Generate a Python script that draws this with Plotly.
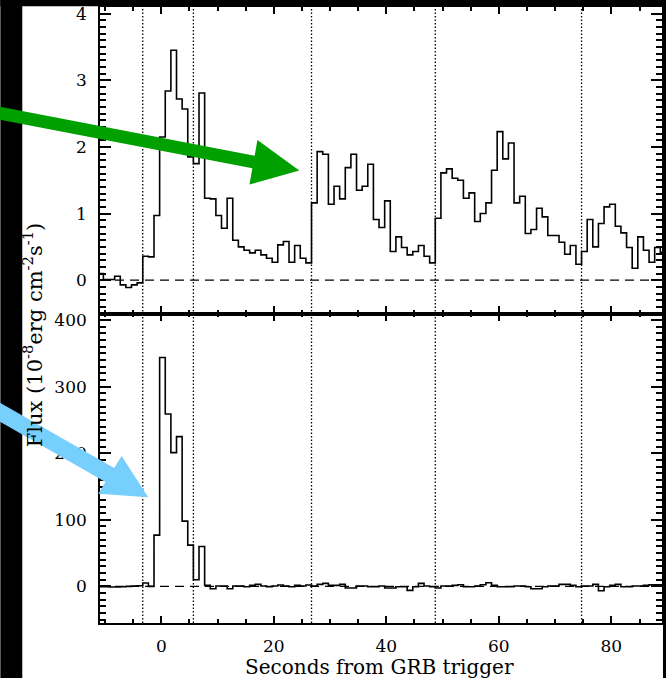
import numpy as np
import plotly.graph_objects as go
from plotly.subplots import make_subplots

# Light curves binned at 1 s; first bin starts at t = -11.3 s
first_edge = -11.3
bin_width = 1.0

# Upper panel: flux per bin (10^-8 erg cm^-2 s^-1)
top_flux = [
    0.10, 0.01, 0.01, 0.06, -0.07, -0.11, -0.07, -0.04,
    0.36, 0.35, 0.97, 2.15, 2.84, 3.45, 2.72, 2.57, 1.85, 1.75, 2.81,
    1.23, 1.22, 0.97, 0.78, 1.23, 0.60, 0.50, 0.45, 0.41, 0.45, 0.38, 0.33,
    0.27, 0.53, 0.58, 0.27, 0.52, 0.33, 0.26,
    1.16, 1.93, 1.89, 1.14, 1.41, 1.22, 1.69, 1.89, 1.35, 1.41, 1.74, 0.91,
    0.79, 1.19, 0.43, 0.65, 0.49, 0.38, 0.43, 0.52, 0.36, 0.26, 0.93, 1.61,
    1.67, 1.53, 1.50, 1.23, 1.31,
    0.88, 1.00, 1.16, 1.65, 2.23, 1.82, 2.06, 1.16, 1.26, 0.70, 0.76, 1.08,
    0.95, 0.67, 0.67, 0.57, 0.39, 0.52, 0.24, 0.43, 0.91, 0.50, 0.85, 1.10,
    1.14, 0.81, 0.71, 0.49, 0.18, 0.65, 0.45, 0.27, 0.49, 0.42,
]

# Lower panel: flux per bin (10^-8 erg cm^-2 s^-1)
bottom_flux = [
    -0.5, -0.5, -1, -1, -0.5, 0, 0.5, 1,
    5, 0, 77, 344, 259, 201, 225, 98, 62, 10, 60,
    1.5, -3.5, 0.5, 0.5, -3.5, 0.5, 0.5, -0.5, 1.5, 3, 0.5, -0.5, 0.5, 2,
    0.5, -0.5, 1.5, 0.5, 2, 0.5, 3, 4.5, 1.5,
    1.5, 3, -2.5, -2.5, 0.5, 0.5, -0.5, -0.5, 0.5, -2.5, -2.5, -0.5, -0.5,
    -6, -0.5, 4.5, 0.5, -0.5, -2.5, 0.5, 0.5, 1.5, 2.5, -0.5, -0.5, 0.5,
    2.5, 5.5, 1.5, -0.5, -0.5, -0.5, 0.5, 0.5, -0.5, -3.5, -3.5, -0.5, 0.5,
    0.5, 3, 3, 1.5, -0.5, 0.5, 0.5, 3, -6.5, -0.5, 1.5, 3, -0.5, -0.5, 0.5,
    0.5, 1.5, 2.5, 2.5, 2.5,
]

# Time-interval boundaries (s)
interval_marks = [-3.3, 5.7, 26.7, 48.7, 74.7]

x_range = [-10.9, 89.0]
top_range = [-0.5, 4.1]
bottom_range = [-55, 410]

W, H = 668, 678
ML, MR, MT, MB = 100, 4, 7, 55
PW, PH = W - ML - MR, H - MT - MB
split = (623 - 313.5) / PH

FONT = "DejaVu Serif"


def step_xy(values):
    edges = first_edge + bin_width * np.arange(len(values) + 1)
    return edges, list(values) + [values[-1]]


def px(x, y):
    """Pixel position on the page -> paper coordinates."""
    return (x - ML) / PW, 1 - (y - MT) / PH


def poly_path(points):
    pts = [px(x, y) for x, y in points]
    return "M " + " L ".join(f"{a:.5f},{b:.5f}" for a, b in pts) + " Z"


def page_rect(x0, y0, x1, y1, color):
    (a, b), (c, d) = px(x0, y1), px(x1, y0)
    return dict(type="rect", xref="paper", yref="paper", x0=a, x1=c, y0=b, y1=d,
                fillcolor=color, line=dict(width=0), layer="above")


fig = make_subplots(rows=2, cols=1, shared_xaxes=True, vertical_spacing=0)

for row, vals in ((1, top_flux), (2, bottom_flux)):
    xs, ys = step_xy(vals)
    fig.add_trace(
        go.Scatter(x=xs, y=ys, mode="lines", line=dict(shape="hv", color="black", width=1.6),
                   showlegend=False, hoverinfo="skip"),
        row=row, col=1,
    )

shapes = []
# black border strips around the page
shapes.append(page_rect(0, 0, 22, 678, "black"))
shapes.append(page_rect(0, 0, 668, 6.2, "black"))
shapes.append(page_rect(665, 0, 668, 678, "black"))
# dashed zero levels
for yref in ("y", "y2"):
    shapes.append(dict(type="line", xref="paper", yref=yref, x0=0, x1=1, y0=0, y1=0,
                       line=dict(color="black", width=1.3, dash="9px,6px")))
# dotted interval boundaries across both panels
for t in interval_marks:
    shapes.append(dict(type="line", xref="x", yref="paper", x0=t, x1=t, y0=0, y1=1,
                       line=dict(color="black", width=1.3, dash="1.5px,2px")))
# pointer arrows
green_arrow = [(-2, 106.4), (255.2, 155.7), (258, 140), (300, 170.5), (250, 184.5),
               (252.9, 168.3), (-2, 119.4)]
blue_arrow = [(-2, 401.9), (114.2, 467.9), (121.7, 456), (148.3, 497.2), (98.3, 493.7),
              (105.5, 481.9), (-2, 420.9)]
shapes.append(dict(type="path", xref="paper", yref="paper", path=poly_path(green_arrow),
                   fillcolor="#00a000", line=dict(width=0), layer="above"))
shapes.append(dict(type="path", xref="paper", yref="paper", path=poly_path(blue_arrow),
                   fillcolor="#76cffc", line=dict(width=0), layer="above"))

axis_common = dict(showgrid=False, zeroline=False, showline=True, linecolor="black",
                   linewidth=1.6, mirror="allticks", ticks="inside", tickcolor="black",
                   tickwidth=1.7, tickfont=dict(family=FONT, size=17, color="black"))


def minor_ticks(step, length):
    return dict(dtick=step, ticklen=length, ticks="inside", tickcolor="black", tickwidth=1.7)


fig.update_xaxes(range=x_range, tick0=0, dtick=20, ticklen=7.5, minor=minor_ticks(5, 4),
                 ticklabelstandoff=7, **axis_common)
fig.update_xaxes(showticklabels=False, row=1, col=1)
fig.update_yaxes(range=top_range, tick0=0, dtick=1, ticklen=11.5, minor=minor_ticks(0.1, 6),
                 ticklabelstandoff=8, domain=[split, 1], row=1, col=1, **axis_common)
fig.update_yaxes(range=bottom_range, tick0=0, dtick=100, ticklen=11.5, minor=minor_ticks(10, 6),
                 ticklabelstandoff=8, domain=[0, split], row=2, col=1, **axis_common)

ytx, yty = px(33, 335)
xtx, xty = px(380, 667)
annotations = [
    dict(text="Flux (10<sup>-8</sup>erg cm<sup>-2</sup>s<sup>-1</sup>)", textangle=-90,
         xref="paper", yref="paper", x=ytx, y=yty, xanchor="center", yanchor="middle",
         showarrow=False, font=dict(family=FONT, size=21, color="black")),
    dict(text="Seconds from GRB trigger", xref="paper", yref="paper", x=xtx, y=xty,
         xanchor="center", yanchor="middle", showarrow=False,
         font=dict(family=FONT, size=20, color="black")),
]

fig.update_layout(width=W, height=H, margin=dict(l=ML, r=MR, t=MT, b=MB),
                  paper_bgcolor="white", plot_bgcolor="white",
                  shapes=shapes, annotations=annotations, showlegend=False)

fig.write_html("out.html")
